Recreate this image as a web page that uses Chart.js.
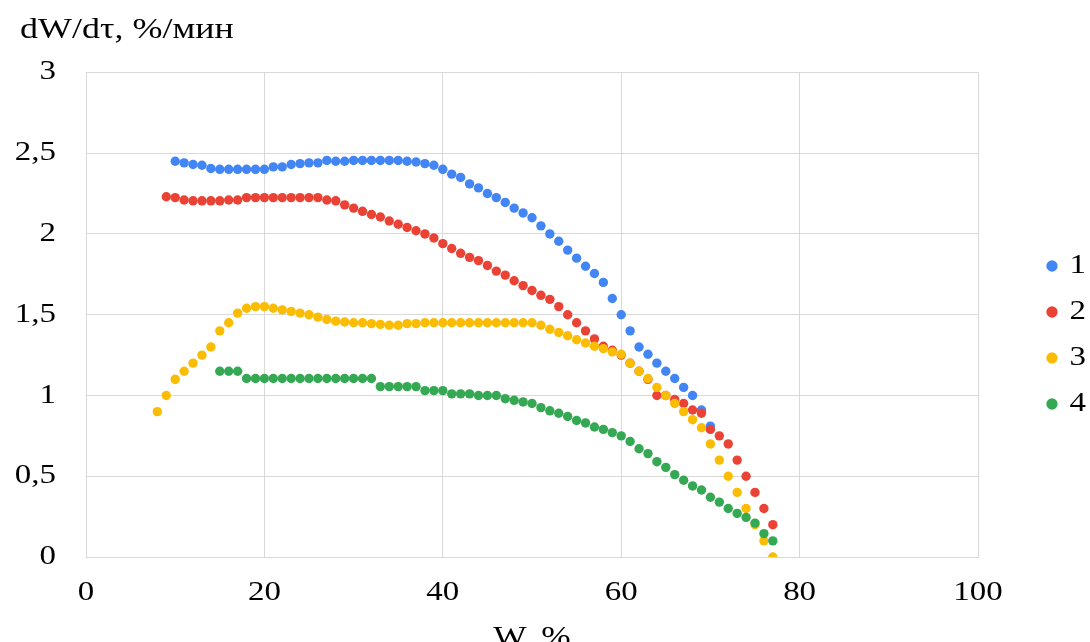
<!DOCTYPE html>
<html>
<head>
<meta charset="utf-8">
<script src="https://cdn.jsdelivr.net/npm/chart.js@4.4.1/dist/chart.umd.min.js"></script>
<style>
  html, body { margin: 0; padding: 0; background: #fff; overflow: hidden; }
  #wrap { position: relative; width: 1090px; height: 670px; }
</style>
</head>
<body>
<div id="wrap"><canvas id="chart"></canvas></div>
<script>
// Drying rate dW/dτ (%/min) against moisture content W (%) for four runs.
const seriesNames = ['1', '2', '3', '4'];
const seriesColors = ['#4285F4', '#EA4335', '#FBBC04', '#34A853'];

const w1 = [10,11,12,13,14,15,16,17,18,19,20,21,22,23,24,25,26,27,28,29,30,31,32,33,34,35,36,37,38,39,40,
            41,42,43,44,45,46,47,48,49,50,51,52,53,54,55,56,57,58,59,60,61,62,63,64,65,66,67,68,69,70];
const rate1 = [2.45,2.44,2.43,2.425,2.405,2.40,2.40,2.40,2.40,2.40,2.40,2.415,2.415,2.43,2.435,2.44,2.44,2.455,2.45,2.45,2.455,
               2.455,2.455,2.455,2.455,2.455,2.45,2.445,2.435,2.425,2.40,2.37,2.35,2.31,2.285,2.25,2.225,2.195,2.16,2.13,2.10,
               2.05,2.00,1.955,1.90,1.85,1.80,1.755,1.70,1.60,1.50,1.40,1.30,1.255,1.20,1.15,1.105,1.05,1.00,0.91,0.81];

const w2 = [9,10,11,12,13,14,15,16,17,18,19,20,21,22,23,24,25,26,27,28,29,30,31,32,33,34,35,36,37,38,39,40,
            41,42,43,44,45,46,47,48,49,50,51,52,53,54,55,56,57,58,59,60,61,62,63,64,65,66,67,68,69,70,71,72,73,74,75,76,77];
const rate2 = [2.23,2.225,2.21,2.205,2.205,2.205,2.205,2.21,2.21,2.225,2.225,2.225,2.225,2.225,2.225,2.225,2.225,2.225,2.21,2.205,
               2.18,2.16,2.14,2.12,2.105,2.08,2.06,2.04,2.02,2.00,1.975,1.94,1.91,1.88,1.855,1.835,1.805,1.77,1.745,1.71,
               1.68,1.65,1.62,1.595,1.55,1.50,1.45,1.40,1.35,1.305,1.28,1.25,1.20,1.15,1.10,1.00,1.00,0.975,0.95,0.91,
               0.89,0.79,0.75,0.70,0.60,0.50,0.40,0.30,0.20];

const w3 = [8,9,10,11,12,13,14,15,16,17,18,19,20,21,22,23,24,25,26,27,28,29,30,31,32,33,34,35,36,37,38,39,40,
            41,42,43,44,45,46,47,48,49,50,51,52,53,54,55,56,57,58,59,60,61,62,63,64,65,66,67,68,69,70,71,72,73,74,75,76,77];
const rate3 = [0.90,1.00,1.10,1.15,1.20,1.25,1.30,1.40,1.45,1.51,1.54,1.55,1.55,1.54,1.53,1.52,1.51,1.50,1.485,1.47,
               1.46,1.455,1.45,1.45,1.445,1.44,1.435,1.435,1.445,1.445,1.45,1.45,1.45,1.45,1.45,1.45,1.45,1.45,1.45,1.45,
               1.45,1.45,1.45,1.435,1.41,1.39,1.37,1.345,1.325,1.305,1.29,1.27,1.255,1.20,1.15,1.105,1.05,1.00,0.95,0.90,
               0.85,0.80,0.70,0.60,0.50,0.40,0.30,0.20,0.10,0.00];

const w4 = [15,16,17,18,19,20,21,22,23,24,25,26,27,28,29,30,31,32,33,34,35,36,37,38,39,40,
            41,42,43,44,45,46,47,48,49,50,51,52,53,54,55,56,57,58,59,60,61,62,63,64,65,66,67,68,69,70,71,72,73,74,75,76,77];
const rate4 = [1.15,1.15,1.15,1.105,1.105,1.105,1.105,1.105,1.105,1.105,1.105,1.105,1.105,1.105,1.105,1.105,1.105,1.105,
               1.055,1.055,1.055,1.055,1.055,1.03,1.03,1.03,1.01,1.01,1.01,1.00,1.00,1.00,0.98,0.97,0.96,0.95,
               0.925,0.905,0.89,0.87,0.845,0.83,0.805,0.79,0.77,0.75,0.715,0.67,0.64,0.59,0.555,0.51,0.475,0.44,
               0.415,0.37,0.34,0.30,0.27,0.245,0.21,0.145,0.10];

const xTicks = [0, 20, 40, 60, 80, 100];
const yTicks = [0, 0.5, 1, 1.5, 2, 2.5, 3];

const xs = [w1, w2, w3, w4];
const ys = [rate1, rate2, rate3, rate4];

const FONT = 'Liberation Serif';
const GRID = '#d9d9d9';
const TEXT_STRETCH = 1.22;   // wide-set lettering, stretched about each text's anchor
const TITLE_INDENT = 20;

const wideText = {
  id: 'wideText',
  afterLayout(chart) {
    // indent the heading a little from the canvas edge
    chart.titleBlock.left = TITLE_INDENT;
  },
  beforeDraw(chart) {
    const ctx = chart.ctx;
    if (ctx._wide) return;
    const fill = ctx.fillText;
    ctx.fillText = function (text, x, y) {
      this.save();
      this.translate(x, y);
      this.scale(TEXT_STRETCH, 1);
      fill.call(this, text, 0, 0);
      this.restore();
    };
    ctx._wide = true;
  }
};

const datasets = seriesNames.map((name, i) => ({
  label: name,
  data: xs[i].map((x, k) => ({ x: x, y: ys[i][k] })),
  showLine: false,
  backgroundColor: seriesColors[i],
  borderColor: seriesColors[i],
  pointRadius: 4.7,
  pointHoverRadius: 4.7,
  pointBorderWidth: 0,
  // later runs are painted over earlier ones
  order: seriesNames.length - i
}));

new Chart(document.getElementById('chart'), {
  type: 'scatter',
  data: { datasets: datasets },
  plugins: [wideText],
  options: {
    responsive: true,
    maintainAspectRatio: false,
    animation: false,
    layout: { padding: { left: 0, right: -3, top: 0, bottom: 0 } },
    plugins: {
      tooltip: { enabled: false },
      title: {
        display: true,
        text: 'dW/dτ, %/мин',
        align: 'start',
        color: '#000',
        font: { family: FONT, size: 29.5, weight: 'normal' },
        padding: { top: 13, bottom: 24 }
      },
      legend: {
        position: 'right',
        align: 'center',
        labels: {
          usePointStyle: true,
          pointStyle: 'circle',
          boxWidth: 8,
          boxHeight: 8,
          padding: 19,
          color: '#000',
          font: { family: FONT, size: 27 },
          sort: (a, b) => a.datasetIndex - b.datasetIndex
        }
      }
    },
    scales: {
      x: {
        type: 'linear',
        min: xTicks[0],
        max: xTicks[xTicks.length - 1],
        afterBuildTicks: s => { s.ticks = xTicks.map(v => ({ value: v })); },
        afterFit: s => { s.height = 113; },
        grid: { color: GRID, lineWidth: 1, drawTicks: false },
        border: { color: GRID },
        ticks: { color: '#000', padding: 20, font: { family: FONT, size: 27 } },
        title: {
          display: true,
          text: 'W, %',
          color: '#000',
          font: { family: FONT, size: 29 },
          padding: { top: 0, bottom: 14 }
        }
      },
      y: {
        type: 'linear',
        min: yTicks[0],
        max: yTicks[yTicks.length - 1],
        afterBuildTicks: s => { s.ticks = yTicks.map(v => ({ value: v })); },
        afterFit: s => { s.width = 86; },
        grid: { color: GRID, lineWidth: 1, drawTicks: false },
        border: { color: GRID },
        ticks: {
          color: '#000',
          padding: 30,
          font: { family: FONT, size: 27 },
          callback: v => String(v).replace('.', ',')
        }
      },
      gap: {
        type: 'linear',
        position: 'right',
        display: true,
        afterFit: s => { s.width = 51; },
        grid: { display: false, drawOnChartArea: false },
        border: { display: false },
        ticks: { display: false }
      }
    }
  }
});
</script>
</body>
</html>
